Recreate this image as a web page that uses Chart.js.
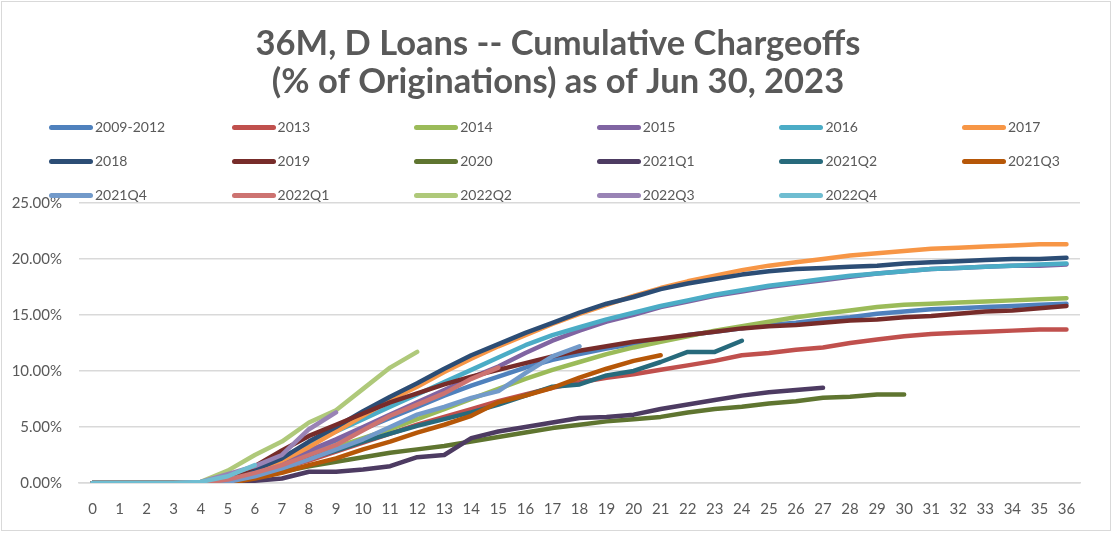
<!DOCTYPE html>
<html>
<head>
<meta charset="utf-8">
<script src="https://cdn.jsdelivr.net/npm/chart.js@4.4.0/dist/chart.umd.min.js"></script>
<style>
  html, body { margin: 0; padding: 0; background: #fff; }
  #wrap { position: relative; width: 1116px; height: 536px; overflow: hidden; }
  #frame { position: absolute; left: 1px; top: 1px; width: 1110px; height: 530px; border: 1.5px solid #d9d9d9; box-sizing: border-box; pointer-events: none; }
  #legend { position: absolute; left: 0; top: 0; width: 1116px; height: 220px; font-family: Lato, "Noto Sans", sans-serif; font-size: 14px; color: #595959; }
  .item { position: absolute; height: 18px; line-height: 18px; white-space: nowrap; }
  .sw { position: absolute; left: 0; top: 6.5px; width: 44px; height: 5px; border-radius: 3px; }
  .lbl { position: absolute; left: 46px; top: 0; }
</style>
</head>
<body>
<div id="wrap">
  <canvas id="chart" width="1116" height="536"></canvas>
  <div id="legend"></div>
  <div id="frame"></div>
</div>
<script>
  // months on book
  var months = ['0','1','2','3','4','5','6','7','8','9','10','11','12','13','14','15','16','17','18',
                '19','20','21','22','23','24','25','26','27','28','29','30','31','32','33','34','35','36'];

  // cumulative chargeoffs, % of originations
  var s2009_2012 = [0,0,0,0,0,0.2,0.9,1.8,2.8,3.8, 4.8,5.8,6.8,7.8,8.7, 9.5,10.3,11.0,11.5,12.0, 12.4,12.8,13.2,13.5,13.8, 14.1,14.3,14.6,14.8,15.1, 15.3,15.5,15.6,15.7,15.8, 15.9,16.0];
  var s2013 = [0,0,0,0,0,0.1,0.6,1.3,2.0,2.8, 3.6,4.4,5.2,5.9,6.6, 7.3,7.9,8.5,9.0,9.4, 9.7,10.1,10.5,10.9,11.4, 11.6,11.9,12.1,12.5,12.8, 13.1,13.3,13.4,13.5,13.6, 13.7,13.7];
  var s2014 = [0,0,0,0,0,0.2,0.8,1.6,2.4,3.2, 4.0,4.8,5.7,6.6,7.5, 8.4,9.3,10.1,10.8,11.5, 12.1,12.6,13.1,13.6,14.0, 14.4,14.8,15.1,15.4,15.7, 15.9,16.0,16.1,16.2,16.3, 16.4,16.5];
  var s2015 = [0,0,0,0,0,0.3,1.0,1.9,2.9,3.9, 5.0,6.1,7.2,8.3,9.4, 10.4,11.6,12.7,13.6,14.4, 15.0,15.7,16.2,16.7,17.1, 17.5,17.8,18.1,18.4,18.7, 18.9,19.1,19.2,19.3,19.4, 19.4,19.5];
  var s2016 = [0,0,0,0,0.1,0.5,1.3,2.3,3.5,4.6, 5.7,6.8,7.9,9.0,10.1, 11.2,12.3,13.2,13.9,14.6, 15.2,15.8,16.3,16.8,17.2, 17.6,17.9,18.2,18.5,18.7, 18.9,19.1,19.2,19.3,19.4, 19.5,19.6];
  var s2017 = [0,0,0,0,0,0.3,1.0,2.0,3.2,4.6, 6.0,7.4,8.6,9.9,11.1, 12.2,13.2,14.2,15.1,15.9, 16.7,17.4,18.0,18.5,19.0, 19.4,19.7,20.0,20.3,20.5, 20.7,20.9,21.0,21.1,21.2, 21.3,21.3];
  var s2018 = [0,0,0,0,0,0.3,1.2,2.2,3.7,5.0, 6.4,7.7,8.9,10.2,11.4, 12.4,13.4,14.3,15.2,16.0, 16.6,17.3,17.8,18.2,18.6, 18.9,19.1,19.2,19.3,19.4, 19.6,19.7,19.8,19.9,20.0, 20.0,20.1];
  var s2019 = [0,0,0,0,0,0.3,1.5,2.9,4.2,5.2, 6.2,7.2,8.0,8.8,9.5, 10.1,10.7,11.3,11.8,12.2, 12.6,12.9,13.2,13.5,13.8, 14.0,14.1,14.3,14.5,14.6, 14.8,14.9,15.1,15.3,15.4, 15.6,15.8];
  var s2020 = [0,0,0,0,0,0.1,0.5,1.0,1.5,1.9, 2.3,2.7,3.0,3.3,3.7, 4.1,4.5,4.9,5.2,5.5, 5.7,5.9,6.3,6.6,6.8, 7.1,7.3,7.6,7.7,7.9, 7.9];
  var s2021Q1 = [0,0,0,0,0,0,0.2,0.4,1.0,1.0, 1.2,1.5,2.3,2.5,4.0, 4.6,5.0,5.4,5.8,5.9, 6.1,6.6,7.0,7.4,7.8, 8.1,8.3,8.5];
  var s2021Q2 = [0,0,0,0,0,0.1,0.7,1.4,2.2,2.9, 3.7,4.4,5.1,5.7,6.3, 7.0,7.8,8.6,8.8,9.6, 10.0,10.8,11.7,11.7,12.7];
  var s2021Q3 = [0,0,0,0,0,0,0.4,0.9,1.6,2.2, 3.0,3.7,4.5,5.2,6.0, 7.2,7.8,8.5,9.4,10.2, 10.9,11.4];
  var s2021Q4 = [0,0,0,0,0,0.1,0.6,1.3,2.1,3.0, 3.9,5.0,6.1,6.8,7.6, 8.2,9.8,11.3,12.2];
  var s2022Q1 = [0,0,0,0,0,0.3,0.9,1.6,2.5,3.4, 4.7,6.0,7.0,8.0,9.3, 10.3];
  var s2022Q2 = [0,0,0,0,0.1,1.1,2.5,3.7,5.4,6.5, 8.4,10.3,11.7];
  var s2022Q3 = [0,0,0,0,0.1,0.8,1.5,2.5,4.8,6.3];
  var s2022Q4 = [0,0,0,0,0.1,0.6,1.6];

  var seriesNames = ['2009-2012','2013','2014','2015','2016','2017',
                     '2018','2019','2020','2021Q1','2021Q2','2021Q3',
                     '2021Q4','2022Q1','2022Q2','2022Q3','2022Q4'];
  var seriesData = [s2009_2012, s2013, s2014, s2015, s2016, s2017,
                    s2018, s2019, s2020, s2021Q1, s2021Q2, s2021Q3,
                    s2021Q4, s2022Q1, s2022Q2, s2022Q3, s2022Q4];
  var seriesColors = ['#4F81BD','#C0504D','#9BBB59','#8064A2','#4BACC6','#F79646',
                      '#2C4D75','#772C2A','#5F7530','#4D3B62','#276A7C','#B65708',
                      '#729ACA','#CD7371','#AFC97A','#9983B5','#6FBDD1'];

  var textColor = '#595959';
  var tickFont = { family: 'Lato, "Noto Sans", sans-serif', size: 15 };

  var datasets = [];
  for (var i = 0; i < seriesNames.length; i++) {
    datasets.push({
      label: seriesNames[i],
      data: seriesData[i],
      borderColor: seriesColors[i],
      backgroundColor: seriesColors[i],
      borderWidth: 4.5,
      pointRadius: 0,
      tension: 0,
      fill: false,
      borderCapStyle: 'round',
      borderJoinStyle: 'round',
      yAxisID: 'y',
      order: seriesNames.length - i   // later series drawn on top, like Excel
    });
  }

  // legend laid out in 6 fixed columns
  var legend = document.getElementById('legend');
  var rowsY = [118, 152, 186];
  for (var j = 0; j < seriesNames.length; j++) {
    var col = j % 6, row = Math.floor(j / 6);
    var item = document.createElement('div');
    item.className = 'item';
    item.style.left = (49 + 182.6 * col) + 'px';
    item.style.top = rowsY[row] + 'px';
    item.innerHTML = '<div class="sw" style="background:' + seriesColors[j] + '"></div>' +
                     '<span class="lbl">' + seriesNames[j] + '</span>';
    legend.appendChild(item);
  }

  var ctx = document.getElementById('chart').getContext('2d');
  window.chargeoffChart = new Chart(ctx, {
    type: 'line',
    data: { labels: months, datasets: datasets },
    options: {
      responsive: false,
      animation: false,
      layout: { padding: 0 },
      plugins: {
        legend: { display: false },
        tooltip: { enabled: false },
        title: {
          display: true,
          text: ['36M, D Loans -- Cumulative Chargeoffs', '(% of Originations) as of Jun 30, 2023'],
          color: textColor,
          font: { family: 'Lato, "Noto Sans", sans-serif', size: 34.5, weight: 'bold', lineHeight: 1.1 },
          padding: { top: 25, bottom: 102 }
        }
      },
      scales: {
        x: {
          offset: true,
          grid: { display: false, drawTicks: false },
          border: { display: true, color: '#d9d9d9', width: 1.5 },
          ticks: { color: textColor, font: tickFont, padding: 17, maxRotation: 0, autoSkip: false },
          afterFit: function (s) { s.height = 53; }
        },
        y: {
          min: 0,
          max: 25,
          grid: { color: '#d9d9d9', lineWidth: 1.5, drawTicks: false },
          border: { display: false },
          ticks: {
            stepSize: 5,
            color: textColor,
            font: tickFont,
            padding: 17,
            callback: function (v) { return v.toFixed(2) + '%'; }
          },
          afterFit: function (s) { s.width = 79; }
        },
        // empty right-hand axis, only reserves the right margin of the plot
        yRight: {
          position: 'right',
          min: 0,
          max: 25,
          grid: { display: false, drawTicks: false },
          border: { display: false },
          ticks: { display: false },
          afterFit: function (s) { s.width = 36; }
        }
      }
    }
  });
</script>
</body>
</html>
